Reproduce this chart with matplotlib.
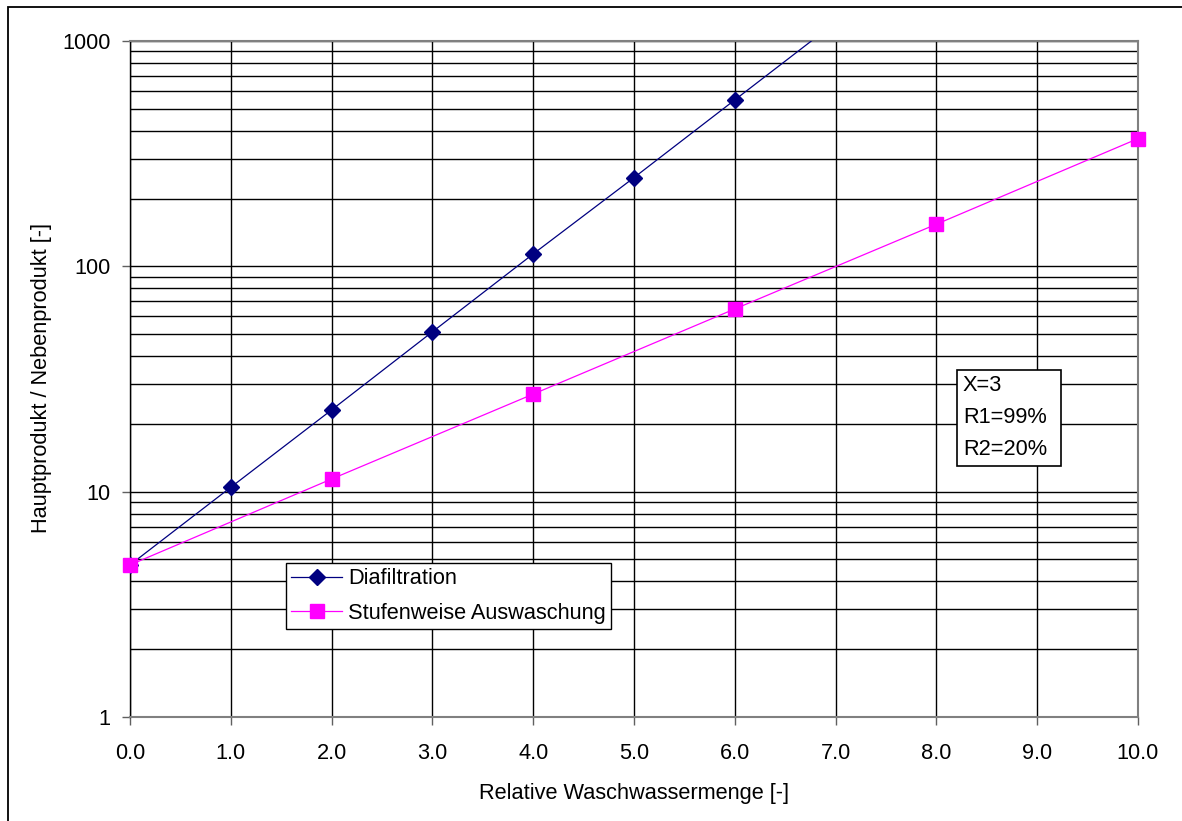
import matplotlib
matplotlib.use("Agg")
import matplotlib.pyplot as plt
from matplotlib.patches import Rectangle
from matplotlib.ticker import FixedLocator, NullFormatter, NullLocator

# ---- data ----
x_dia = [0, 1, 2, 3, 4, 5, 6, 7]
y_dia = [4.73, 10.46, 23.05, 51.2, 113.5, 247.6, 547.7, 1210.0]
x_stu = [0, 2, 4, 6, 8, 10]
y_stu = [4.73, 11.38, 27.1, 64.7, 153.8, 368.8]
x_ticks = [0, 1, 2, 3, 4, 5, 6, 7, 8, 9, 10]
x_ticklabels = ["0.0", "1.0", "2.0", "3.0", "4.0", "5.0", "6.0", "7.0", "8.0", "9.0", "10.0"]
y_ticks = [1, 10, 100, 1000]
y_ticklabels = ["1", "10", "100", "1000"]
series_names = ["Diafiltration", "Stufenweise Auswaschung"]
xlabel = "Relative Waschwassermenge [-]"
ylabel = "Hauptprodukt / Nebenprodukt [-]"
info_text = "X=3\nR1=99%\nR2=20%"

plt.rcParams['font.family'] = ['Liberation Sans', 'DejaVu Sans']
FS = 15.7

W, H = 1182, 821
fig = plt.figure(figsize=(W / 100, H / 100), dpi=100)
ax = fig.add_axes([130 / W, 1 - 717 / H, (1138 - 130) / W, (717 - 41) / H])

ax.set_yscale('log')
ax.set_xlim(0, 10)
ax.set_ylim(1, 1000)

# grid
ax.xaxis.set_major_locator(FixedLocator(x_ticks))
ax.set_xticklabels(x_ticklabels)
ax.yaxis.set_major_locator(FixedLocator(y_ticks))
ax.set_yticklabels(y_ticklabels)
minor = [m * 10 ** e for e in range(0, 3) for m in range(2, 10)]
ax.yaxis.set_minor_locator(FixedLocator(minor))
ax.yaxis.set_minor_formatter(NullFormatter())
ax.xaxis.set_minor_locator(NullLocator())
ax.grid(True, which='major', axis='both', color='black', linewidth=1.0)
ax.grid(True, which='minor', axis='y', color='black', linewidth=1.0)
ax.set_axisbelow(True)

ax.tick_params(axis='y', which='minor', length=0)
ax.tick_params(axis='both', which='major', direction='out', length=6, width=1.0,
               color='#606060', labelsize=FS)
ax.tick_params(axis='y', which='major', pad=8)
ax.tick_params(axis='x', which='major', pad=13)

for s in ['top', 'right', 'bottom']:
    ax.spines[s].set_color('#808080')
    ax.spines[s].set_linewidth(1.5)
ax.spines['left'].set_color('black')
ax.spines['left'].set_linewidth(1.0)

# series
ax.plot(x_dia, y_dia, color='#000080', linewidth=0.9, marker='D', markersize=8,
        markerfacecolor='#000080', markeredgecolor='#000080', label=series_names[0], zorder=4)
ax.plot(x_stu, y_stu, color='#FF00FF', linewidth=0.9, marker='s', markersize=9.5,
        markerfacecolor='#FF00FF', markeredgecolor='#FF00FF', label=series_names[1],
        zorder=4, clip_on=False)

# labels
ax.set_xlabel(xlabel, fontsize=FS)
ax.xaxis.label.set_va('center')
ax.xaxis.set_label_coords(0.5, (717 - 793) / 676)
ax.set_ylabel(ylabel, fontsize=FS)
ax.yaxis.label.set_va('center')
ax.yaxis.set_label_coords((42 - 130) / 1008, (717 - 378) / 676)

# legend
leg = ax.legend(loc='upper left', bbox_to_anchor=((286 - 130) / 1008, (717 - 563) / 676),
                borderaxespad=0, fancybox=False, frameon=True, fontsize=FS,
                handlelength=2.3, handletextpad=0.3, labelspacing=0.62, borderpad=0.25)
leg.get_frame().set_edgecolor('black')
leg.get_frame().set_linewidth(1.0)
leg.get_frame().set_alpha(1)

# info box
bx0, bx1 = (957 - 130) / 1008, (1061 - 130) / 1008
by1, by0 = (717 - 370) / 676, (717 - 466) / 676
ax.add_patch(Rectangle((bx0, by0), bx1 - bx0, by1 - by0, transform=ax.transAxes,
                       facecolor='white', edgecolor='black', linewidth=1.2, zorder=5))
for i, line in enumerate(info_text.split("\n")):
    ax.text((963 - 130) / 1008, (717 - (386 + 32 * i)) / 676, line, transform=ax.transAxes,
            ha='left', va='center', fontsize=FS, zorder=6)

# outer chart border (left/top visible)
fig.add_artist(Rectangle((8 / W, -0.1), 1.2, 1.1 - 7 / H, transform=fig.transFigure,
                         fill=False, edgecolor='black', linewidth=1.3))

fig.savefig('out.png', dpi=100)
